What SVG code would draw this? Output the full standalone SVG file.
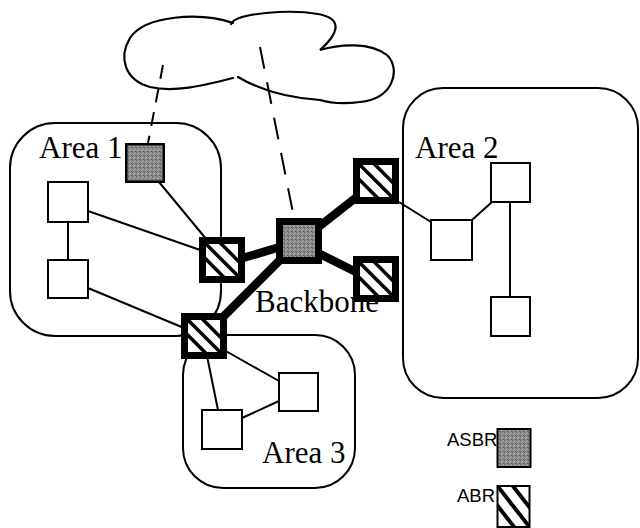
<svg xmlns="http://www.w3.org/2000/svg" xmlns:xlink="http://www.w3.org/1999/xlink" width="640" height="528" viewBox="0 0 640 528">
  <style>
    .area { fill: none; stroke: #000; stroke-width: 2; }
    .label { font-family: "Liberation Serif", "Times New Roman", serif; font-size: 31px; fill: #000; }
    .legend { font-family: "Liberation Sans", Arial, sans-serif; font-size: 18.5px; fill: #000; }
    .host { fill: #fff; stroke: #000; stroke-width: 2; }
    .link { stroke: #000; stroke-width: 2; fill: none; }
    .trunk { stroke: #000; stroke-width: 8.5; fill: none; }
    .dash { stroke: #000; stroke-width: 2; fill: none; }
    .router { fill: #fff; stroke: #000; stroke-width: 7; }
    .cloud { fill: none; stroke: #000; stroke-width: 2.2; stroke-linecap: round; }
  </style>
  <defs>
    <!-- stippled grey used for boundary routers -->
    <pattern id="stipple" width="4" height="4" patternUnits="userSpaceOnUse">
      <rect width="4" height="4" fill="#8a8a8a"/>
      <rect x="0" y="0" width="1" height="1" fill="#666"/>
      <rect x="2" y="1" width="1" height="1" fill="#adadad"/>
      <rect x="1" y="2" width="1" height="1" fill="#b0b0b0"/>
      <rect x="3" y="3" width="1" height="1" fill="#606060"/>
      <rect x="3" y="0" width="1" height="1" fill="#a4a4a4"/>
      <rect x="0" y="3" width="1" height="1" fill="#727272"/>
    </pattern>
    <!-- diagonal hatching for area border routers -->
    <symbol id="hatch" viewBox="0 0 100 100" preserveAspectRatio="none">
      <rect width="100" height="100" fill="#fff"/>
      <g stroke="#000" stroke-width="11">
        <line x1="-10" y1="-10" x2="110" y2="110"/>
        <line x1="38" y1="-10" x2="110" y2="62"/>
        <line x1="-10" y1="38" x2="62" y2="110"/>
      </g>
    </symbol>
  </defs>

  <rect width="640" height="528" fill="#fff"/>

  <!-- external network cloud -->
  <g id="cloud">
    <path class="cloud" d="M 233,23 C 200,12 145,15 130,38 C 118,58 125,80 150,87 C 175,93 205,85 233,78"/>
    <path class="cloud" d="M 231,24 C 236,13 290,9 318,14 C 345,19 337,35 320,50 C 340,44 370,42 387,55 C 402,70 392,100 360,102 C 345,104 330,103 320,100 C 290,98 260,90 238,77"/>
  </g>

  <!-- areas -->
  <g id="area1">
    <rect class="area" x="10" y="123" width="211" height="213" rx="45" ry="45"/>
    <text class="label" x="39" y="158">Area 1</text>
  </g>
  <g id="area2">
    <rect class="area" x="403" y="88" width="235" height="310" rx="40" ry="40"/>
    <text class="label" x="415" y="158">Area 2</text>
  </g>
  <g id="area3">
    <rect class="area" x="183" y="335" width="172" height="153" rx="40" ry="40"/>
    <text class="label" x="262" y="463">Area 3</text>
  </g>
  <g id="backbone-label">
    <text class="label" x="255" y="312">Backbone</text>
  </g>

  <!-- connectors -->
  <g id="connectors">
    <line class="dash" x1="163" y1="65" x2="148" y2="143" stroke-dasharray="14 10"/>
    <line class="dash" x1="260" y1="47" x2="294" y2="218" stroke-dasharray="22 14"/>

    <line class="link" x1="68" y1="222" x2="68" y2="260"/>
    <line class="link" x1="88" y1="211" x2="203" y2="251"/>
    <line class="link" x1="88" y1="288" x2="184" y2="328"/>
    <line class="link" x1="159" y1="182" x2="207" y2="240"/>

    <line class="link" x1="399" y1="202" x2="431" y2="222"/>
    <line class="link" x1="472" y1="220" x2="492" y2="202"/>
    <line class="link" x1="510" y1="202" x2="510" y2="297"/>

    <line class="link" x1="207" y1="356" x2="218" y2="410"/>
    <line class="link" x1="224" y1="350" x2="279" y2="381"/>
    <line class="link" x1="242" y1="418" x2="279" y2="401"/>

    <line class="trunk" x1="243" y1="258" x2="280" y2="247"/>
    <line class="trunk" x1="222" y1="318" x2="283" y2="257"/>
    <line class="trunk" x1="316" y1="229" x2="358" y2="196"/>
    <line class="trunk" x1="316" y1="252" x2="358" y2="273"/>
  </g>

  <!-- area 1 hosts -->
  <g id="a1-host1"><rect class="host" x="48" y="182" width="40" height="40"/></g>
  <g id="a1-host2"><rect class="host" x="48" y="260" width="40" height="38"/></g>
  <g id="a1-asbr"><rect x="126.25" y="144.25" width="37.5" height="37.5" fill="url(#stipple)" stroke="#000" stroke-width="2.5"/></g>

  <!-- area 2 hosts -->
  <g id="a2-host1"><rect class="host" x="431" y="220" width="41" height="40"/></g>
  <g id="a2-host2"><rect class="host" x="491" y="163" width="39" height="39"/></g>
  <g id="a2-host3"><rect class="host" x="491" y="297" width="39" height="39"/></g>

  <!-- area 3 hosts -->
  <g id="a3-host1"><rect class="host" x="279" y="373" width="39" height="38"/></g>
  <g id="a3-host2"><rect class="host" x="202" y="410" width="40" height="39"/></g>

  <!-- backbone routers -->
  <g id="abr-area1">
    <rect class="router" x="202.5" y="240.5" width="39" height="39"/>
    <use xlink:href="#hatch" x="206" y="244" width="32" height="32"/>
  </g>
  <g id="abr-area3">
    <rect class="router" x="184.5" y="316.5" width="39" height="39"/>
    <use xlink:href="#hatch" x="188" y="320" width="32" height="32"/>
  </g>
  <g id="abr-area2-top">
    <rect class="router" x="356.5" y="161.5" width="39" height="39"/>
    <use xlink:href="#hatch" x="360" y="165" width="32" height="32"/>
  </g>
  <g id="abr-area2-bottom">
    <rect class="router" x="356.5" y="259.5" width="39" height="39"/>
    <use xlink:href="#hatch" x="360" y="263" width="32" height="32"/>
  </g>
  <g id="asbr-backbone">
    <rect x="279.5" y="221.5" width="39" height="39" fill="url(#stipple)" stroke="#000" stroke-width="7"/>
  </g>

  <!-- legend -->
  <g id="legend-asbr">
    <text class="legend" x="447" y="446">ASBR</text>
    <rect x="497.5" y="429" width="33" height="38" fill="url(#stipple)" stroke="#000" stroke-width="2"/>
  </g>
  <g id="legend-abr">
    <text class="legend" x="457" y="502">ABR</text>
    <use xlink:href="#hatch" x="497.5" y="486" width="32" height="41"/>
    <rect x="497.5" y="486" width="32" height="41" fill="none" stroke="#000" stroke-width="2"/>
  </g>
</svg>
